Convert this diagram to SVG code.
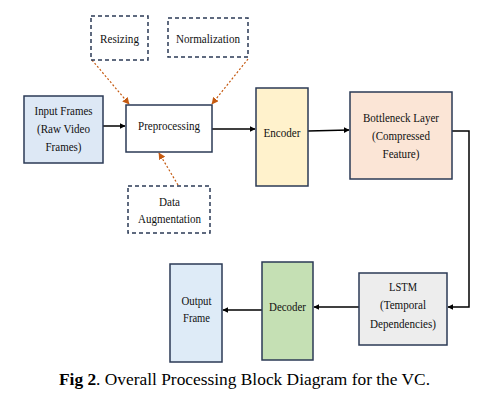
<svg xmlns="http://www.w3.org/2000/svg" width="483" height="415" viewBox="0 0 483 415">
<style>
.box{stroke:#2b3a55;stroke-width:1.5}
.dash{fill:#fff;stroke:#2b3a55;stroke-width:1.5;stroke-dasharray:4,3}
.t{font-family:"Liberation Serif","Times New Roman",serif;font-size:13.5px;fill:#111;text-anchor:middle}
.c{fill:none;stroke:#000;stroke-width:1.5}
.o{fill:none;stroke:#c55a11;stroke-width:1.2;stroke-dasharray:2,2}
.cap{font-family:"Liberation Serif","Times New Roman",serif;font-size:16px;fill:#000}
</style>
<defs>
<marker id="ah" viewBox="0 0 10 10" refX="9" refY="5" markerWidth="6" markerHeight="6" markerUnits="userSpaceOnUse" orient="auto"><path d="M0,0 L10,5 L0,10 z" fill="#000"/></marker>
<marker id="oh" viewBox="0 0 10 10" refX="9" refY="5" markerWidth="7" markerHeight="7" markerUnits="userSpaceOnUse" orient="auto"><path d="M0,0 L10,5 L0,10 z" fill="#c55a11"/></marker>
</defs>
<rect width="483" height="415" fill="#fff"/>
<g id="connectors">
<line class="c" x1="103" y1="126" x2="125" y2="126" marker-end="url(#ah)"/>
<line class="c" x1="212" y1="129" x2="255" y2="129" marker-end="url(#ah)"/>
<line class="c" x1="308" y1="131" x2="349" y2="130" marker-end="url(#ah)"/>
<polyline class="c" points="452,131 469,131 469,307 448,307" marker-end="url(#ah)"/>
<line class="c" x1="359" y1="307" x2="314" y2="307" marker-end="url(#ah)"/>
<line class="c" x1="262" y1="310" x2="223" y2="310" marker-end="url(#ah)"/>
<line class="o" x1="92" y1="60" x2="129" y2="104" marker-end="url(#oh)"/>
<line class="o" x1="248" y1="59" x2="212" y2="104" marker-end="url(#oh)"/>
<line class="o" x1="178" y1="185" x2="159" y2="153" marker-end="url(#oh)"/>
</g>
<g id="resizing">
<rect class="dash" x="91" y="16" width="57" height="44"/>
<text class="t" x="119.5" y="43" textLength="39" lengthAdjust="spacingAndGlyphs">Resizing</text>
</g>
<g id="normalization">
<rect class="dash" x="168" y="18" width="80" height="39"/>
<text class="t" x="208" y="43" textLength="64" lengthAdjust="spacingAndGlyphs">Normalization</text>
</g>
<g id="input-frames">
<rect class="box" x="24" y="96" width="79" height="67" fill="#dde8f5"/>
<text class="t" x="63.5" y="115" textLength="58" lengthAdjust="spacingAndGlyphs">Input Frames</text>
<text class="t" x="63.5" y="133" textLength="53" lengthAdjust="spacingAndGlyphs">(Raw Video</text>
<text class="t" x="63.5" y="151" textLength="36" lengthAdjust="spacingAndGlyphs">Frames)</text>
</g>
<g id="preprocessing">
<rect class="box" x="126" y="105" width="86" height="47" fill="#fff"/>
<text class="t" x="169" y="130" textLength="62" lengthAdjust="spacingAndGlyphs">Preprocessing</text>
</g>
<g id="data-augmentation">
<rect class="dash" x="128" y="186" width="82" height="47"/>
<text class="t" x="169.5" y="206" textLength="21" lengthAdjust="spacingAndGlyphs">Data</text>
<text class="t" x="169.5" y="223" textLength="63" lengthAdjust="spacingAndGlyphs">Augmentation</text>
</g>
<g id="encoder">
<rect class="box" x="256" y="88" width="52" height="98" fill="#fff2cc"/>
<text class="t" x="282" y="137" textLength="37" lengthAdjust="spacingAndGlyphs">Encoder</text>
</g>
<g id="bottleneck">
<rect class="box" x="350" y="92" width="102" height="87" fill="#fbe5d6"/>
<text class="t" x="401" y="122" textLength="76" lengthAdjust="spacingAndGlyphs">Bottleneck Layer</text>
<text class="t" x="401" y="140" textLength="58" lengthAdjust="spacingAndGlyphs">(Compressed</text>
<text class="t" x="401" y="158" textLength="37" lengthAdjust="spacingAndGlyphs">Feature)</text>
</g>
<g id="lstm">
<rect class="box" x="359" y="273" width="88" height="72" fill="#ededed"/>
<text class="t" x="403" y="291" textLength="28" lengthAdjust="spacingAndGlyphs">LSTM</text>
<text class="t" x="403" y="309" textLength="46" lengthAdjust="spacingAndGlyphs">(Temporal</text>
<text class="t" x="403" y="328" textLength="66" lengthAdjust="spacingAndGlyphs">Dependencies)</text>
</g>
<g id="decoder">
<rect class="box" x="262" y="262" width="51" height="98" fill="#c5e0b4"/>
<text class="t" x="287.5" y="311" textLength="37" lengthAdjust="spacingAndGlyphs">Decoder</text>
</g>
<g id="output-frame">
<rect class="box" x="170" y="264" width="52" height="98" fill="#deebf7"/>
<text class="t" x="196.5" y="305" textLength="30" lengthAdjust="spacingAndGlyphs">Output</text>
<text class="t" x="196.5" y="322" textLength="27" lengthAdjust="spacingAndGlyphs">Frame</text>
</g>
<text class="cap" x="59" y="385" textLength="371" lengthAdjust="spacingAndGlyphs"><tspan font-weight="bold">Fig 2</tspan>. Overall Processing Block Diagram for the VC.</text>
</svg>
